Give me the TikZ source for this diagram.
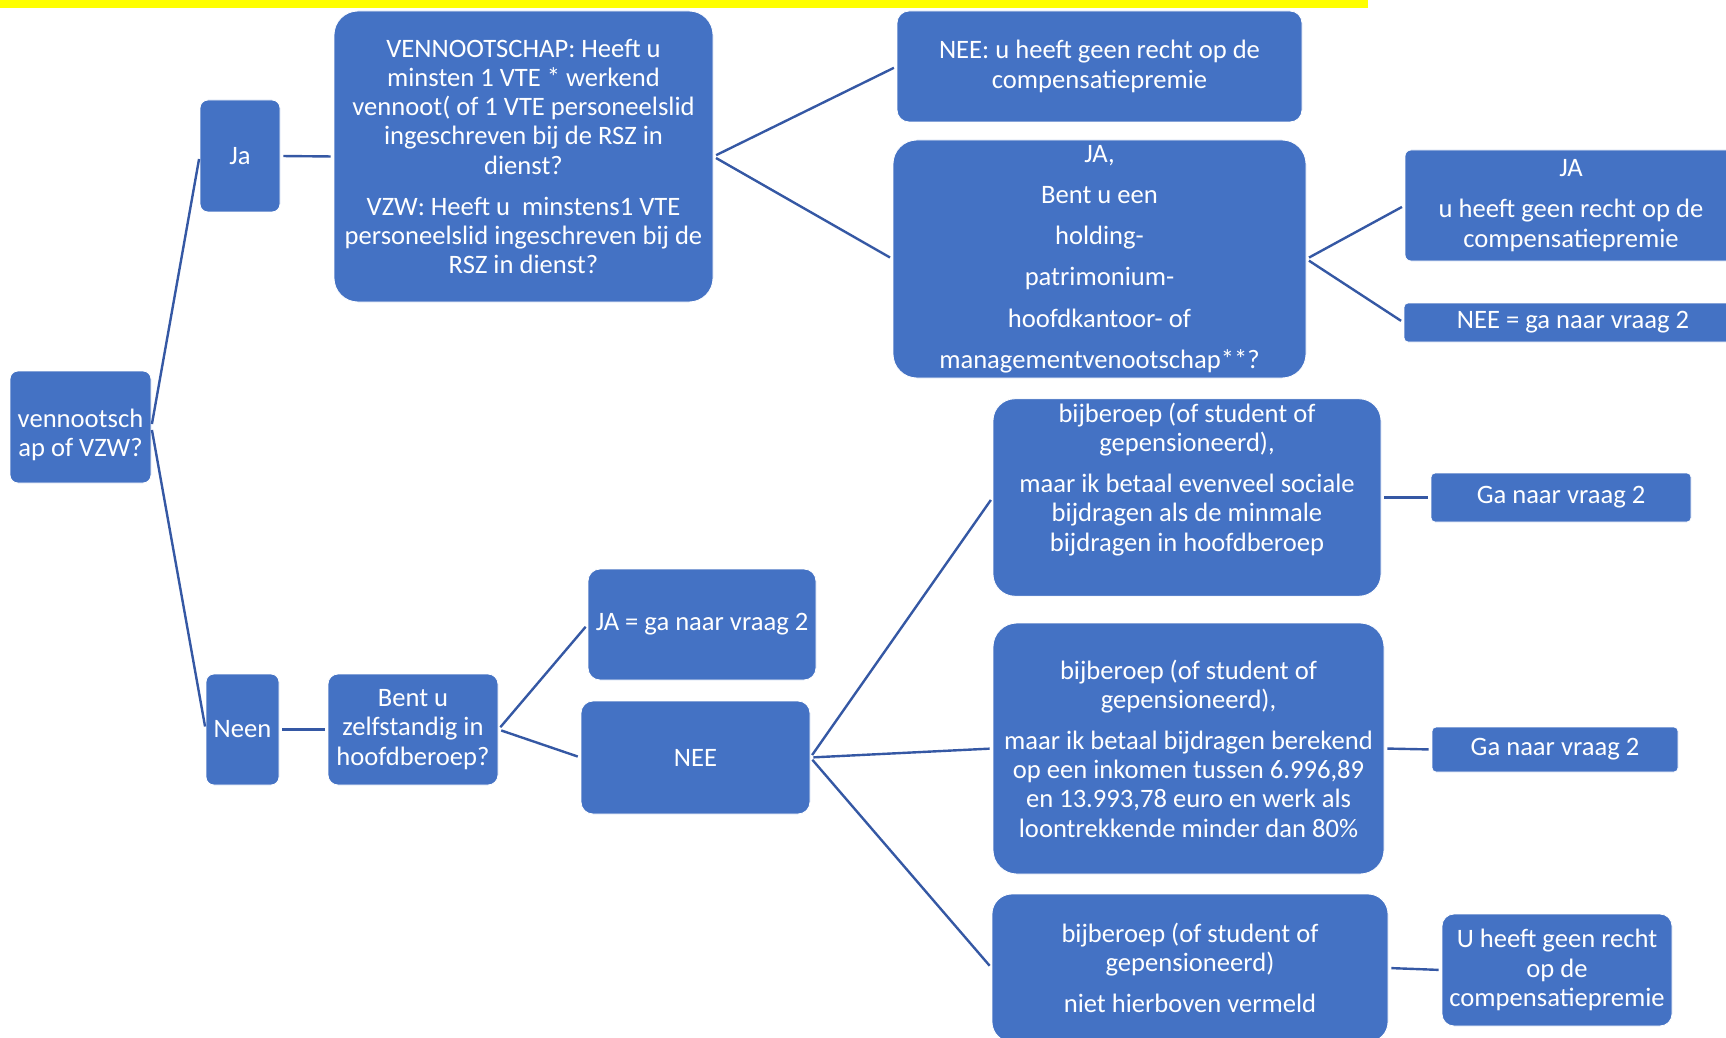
\documentclass[tikz,border=0pt]{standalone}
\usepackage{fontspec}
\setmainfont{Carlito}
\definecolor{boxblue}{HTML}{4472C4}
\definecolor{linkblue}{HTML}{3558A4}
\definecolor{markyellow}{HTML}{FFFF00}

\begin{document}
\begin{tikzpicture}[x=0.5pt, y=-0.5pt,
    box/.style={draw=white, line width=0.4pt, fill=boxblue, text=white, align=center,
      inner sep=2pt, font=\fontsize{13.3}{14.6}\selectfont, rounded corners=#1},
    box/.default=4pt,
    boxsize/.style 2 args={minimum width=#1*0.5pt, minimum height=#2*0.5pt},
    link/.style={draw=linkblue, line width=1.2pt, shorten <=1.5pt, shorten >=1.5pt}]
          \useasboundingbox (0, 0) rectangle (1726, 1038);
          \clip (0, 0) rectangle (1726, 1038);

          % Highlighted strip at the top
          \fill[markyellow] (0, 0) rectangle (1368, 8);

          % Nodes for the first question
          \node[box, boxsize={141}{112}] (venn) at (80.5, 427) {\rule{0pt}{17pt}vennootsch\\ap of VZW?};
          \node[box, boxsize={80}{112}] (ja) at (240, 156) {Ja};
          \node[box, boxsize={73}{111}] (neen) at (242.5, 729.5) {Neen};

          % Nodes for the branch Ja
          \node[box=12pt, boxsize={379}{291}] (vq) at (523.5, 156.5)
            {VENNOOTSCHAP: Heeft u\\ minsten 1 VTE * werkend\\ vennoot( of 1 VTE personeelslid\\
             ingeschreven bij de RSZ in\\ dienst?\\[6pt]
             VZW: Heeft u\ \ minstens1 VTE\\ personeelslid ingeschreven bij de\\ RSZ in dienst?};
          \node[box=6pt, boxsize={405}{111}] (neetop) at (1099.5, 66.5)
            {NEE: u heeft geen recht op de\\ compensatiepremie};
          \node[box=12pt, boxsize={413}{238}] (jabent) at (1099.5, 259)
            {JA,\\[6pt] Bent u een\\[6pt] holding-\\[6pt] patrimonium-\\[6pt] hoofdkantoor- of\\[6pt]
             managementvenootschap**?};
          \node[box=3pt, boxsize={332}{111}] (jageen) at (1571, 205.5)
            {JA\\[6pt] u heeft geen recht op de\\ compensatiepremie};
          \node[box=2pt, boxsize={338}{39}] (neeg2) at (1573, 322.5) {NEE = ga naar vraag 2};

          % Nodes for the branch Neen
          \node[box=5pt, boxsize={170}{111}] (zelf) at (413, 729.5) {Bent u\\ zelfstandig in\\ hoofdberoep?};
          \node[box=6pt, boxsize={228}{111}] (ja2) at (702, 624.5) {JA = ga naar vraag 2};
          \node[box=6pt, boxsize={229}{113}] (nee2) at (695.5, 757.5) {NEE};
          \node[box=11pt, boxsize={388}{193}] (bij1) at (1187, 497.5)
            {bijberoep (of student of\\ gepensioneerd),\\[6pt]
             maar ik betaal evenveel sociale\\ bijdragen als de minmale\\ bijdragen in hoofdberoep\\[6pt]\mbox{}};
          \node[box=12pt, boxsize={391}{251}] (bij2) at (1188.5, 748.5)
            {bijberoep (of student of\\ gepensioneerd),\\[6pt]
             maar ik betaal bijdragen berekend\\ op een inkomen tussen 6.996,89\\
             en 13.993,78 euro en werk als\\ loontrekkende minder dan 80\%};
          \node[box=10pt, boxsize={396}{148}] (bij3) at (1190, 968)
            {bijberoep (of student of\\ gepensioneerd)\\[6pt] niet hierboven vermeld};
          \node[box=2pt, boxsize={260}{49}] (ga1) at (1561, 497.5) {Ga naar vraag 2};
          \node[box=2pt, boxsize={246}{45}] (ga2) at (1555, 749.5) {Ga naar vraag 2};
          \node[box=6pt, boxsize={230}{112}] (geen) at (1557, 970) {U heeft geen recht\\ op de\\ compensatiepremie};

          % Edges
          \draw [link] (venn.east) -- (ja.west);
          \draw [link] (venn.east) -- (neen.west);
          \draw [link] (ja.east) -- (vq.west);
          \draw [link] (vq.east) -- (neetop.west);
          \draw [link] (vq.east) -- (jabent.west);
          \draw [link] (jabent.east) -- (jageen.west);
          \draw [link] (jabent.east) -- (neeg2.west);
          \draw [link] (neen.east) -- (zelf.west);
          \draw [link] (zelf.east) -- (ja2.west);
          \draw [link] (zelf.east) -- (nee2.west);
          \draw [link] (nee2.east) -- (bij1.west);
          \draw [link] (nee2.east) -- (bij2.west);
          \draw [link] (nee2.east) -- (bij3.west);
          \draw [link] (bij1.east) -- (ga1.west);
          \draw [link] (bij2.east) -- (ga2.west);
          \draw [link] (bij3.east) -- (geen.west);
        \end{tikzpicture}
\end{document}
